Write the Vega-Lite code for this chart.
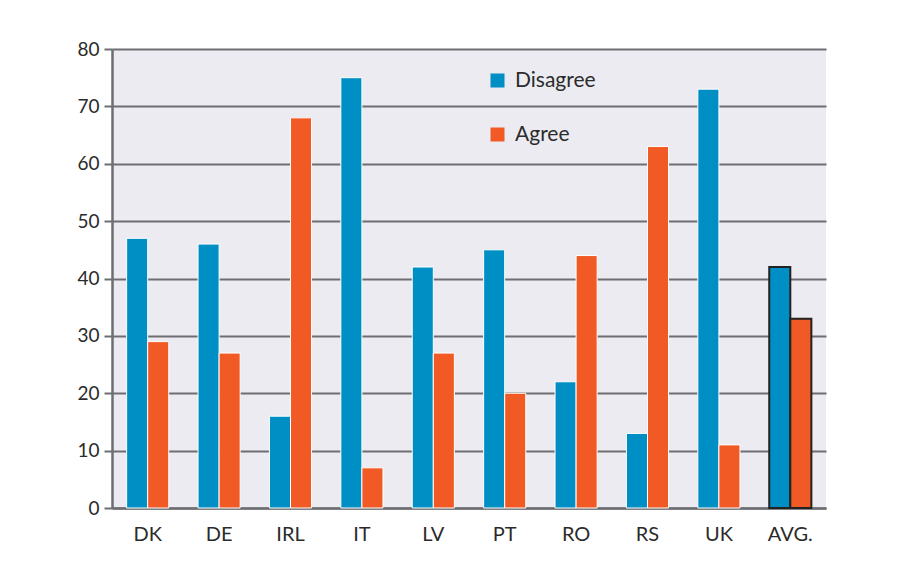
{
  "$schema": "https://vega.github.io/schema/vega-lite/v6.json",
  "width": 714,
  "height": 459,
  "autosize": {"type": "none"},
  "padding": {"left": 112, "top": 49, "right": 84, "bottom": 53},
  "background": "white",
  "config": {
    "font": "Lato",
    "view": {"fill": "#ECEBF1", "stroke": null}
  },
  "data": {
    "values": [
      {"country": "DK", "response": "Disagree", "value": 47},
      {"country": "DK", "response": "Agree", "value": 29},
      {"country": "DE", "response": "Disagree", "value": 46},
      {"country": "DE", "response": "Agree", "value": 27},
      {"country": "IRL", "response": "Disagree", "value": 16},
      {"country": "IRL", "response": "Agree", "value": 68},
      {"country": "IT", "response": "Disagree", "value": 75},
      {"country": "IT", "response": "Agree", "value": 7},
      {"country": "LV", "response": "Disagree", "value": 42},
      {"country": "LV", "response": "Agree", "value": 27},
      {"country": "PT", "response": "Disagree", "value": 45},
      {"country": "PT", "response": "Agree", "value": 20},
      {"country": "RO", "response": "Disagree", "value": 22},
      {"country": "RO", "response": "Agree", "value": 44},
      {"country": "RS", "response": "Disagree", "value": 13},
      {"country": "RS", "response": "Agree", "value": 63},
      {"country": "UK", "response": "Disagree", "value": 73},
      {"country": "UK", "response": "Agree", "value": 11},
      {"country": "AVG.", "response": "Disagree", "value": 42},
      {"country": "AVG.", "response": "Agree", "value": 33}
    ]
  },
  "mark": {"type": "bar", "strokeWidth": 1},
  "encoding": {
    "x": {
      "field": "country",
      "type": "nominal",
      "sort": null,
      "scale": {"paddingInner": 0.41, "paddingOuter": 0.205},
      "axis": {
        "title": null,
        "labelAngle": 0,
        "ticks": false,
        "labelPadding": 16,
        "labelFontSize": 20,
        "labelColor": "#2b2b2b",
        "domainColor": "#6D6E72",
        "domainWidth": 2.5,
        "grid": false
      }
    },
    "xOffset": {"field": "response", "type": "nominal", "sort": ["Disagree", "Agree"]},
    "y": {
      "field": "value",
      "type": "quantitative",
      "scale": {"domain": [0, 80], "nice": false},
      "axis": {
        "title": null,
        "values": [0, 10, 20, 30, 40, 50, 60, 70, 80],
        "tickSize": 8,
        "tickWidth": 2,
        "tickColor": "#6D6E72",
        "labelPadding": 5,
        "labelFontSize": 19,
        "labelColor": "#2b2b2b",
        "domainColor": "#6D6E72",
        "domainWidth": 2.5,
        "grid": true,
        "gridColor": "#6D6E72",
        "gridWidth": 2,
        "gridOpacity": 1
      }
    },
    "color": {
      "field": "response",
      "type": "nominal",
      "sort": ["Disagree", "Agree"],
      "scale": {"domain": ["Disagree", "Agree"], "range": ["#008FC5", "#F15A24"]},
      "legend": {
        "title": null,
        "orient": "none",
        "legendX": 375,
        "legendY": 21,
        "symbolType": "square",
        "symbolSize": 196,
        "symbolStrokeWidth": 0,
        "labelFontSize": 21,
        "labelColor": "#2b2b2b",
        "labelOffset": 7,
        "rowPadding": 32
      }
    },
    "stroke": {
      "condition": {"test": "datum.country === 'AVG.'", "value": "#222222"},
      "value": "#ffffff"
    },
    "strokeWidth": {
      "condition": {"test": "datum.country === 'AVG.'", "value": 2},
      "value": 1
    }
  }
}
